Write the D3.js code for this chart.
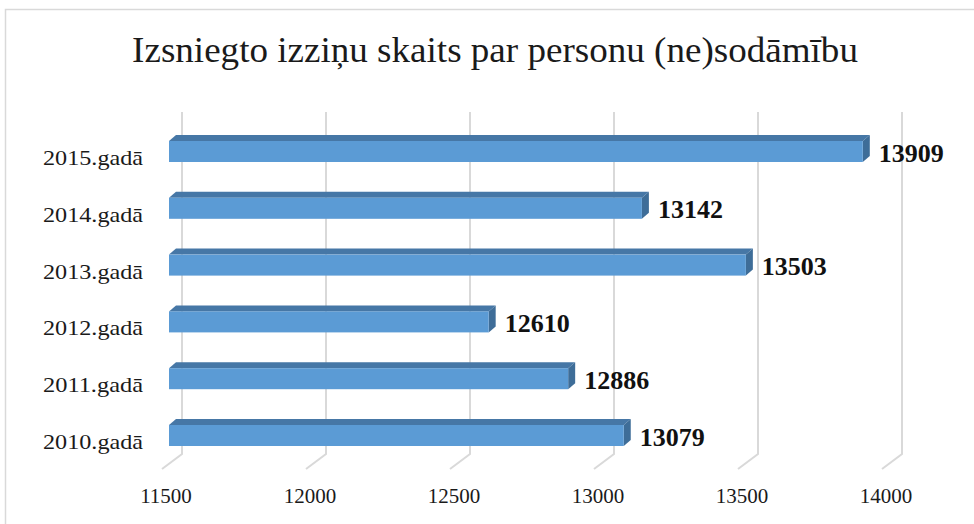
<!DOCTYPE html>
<html>
<head>
<meta charset="utf-8">
<script src="https://cdn.jsdelivr.net/npm/d3@7"></script>
<style>
  body { margin: 0; background: #fff; }
</style>
</head>
<body>
<svg id="chart" width="974" height="524"></svg>
<script>
const years = ["2015.gadā", "2014.gadā", "2013.gadā", "2012.gadā", "2011.gadā", "2010.gadā"];
const counts = [13909, 13142, 13503, 12610, 12886, 13079];
const ticks = [11500, 12000, 12500, 13000, 13500, 14000];
const title = "Izsniegto izziņu skaits par personu (ne)sodāmību";

const serif = "Liberation Serif";
const svg = d3.select("#chart");

// stretch a text horizontally to a given width, keeping glyph height
function fitWidth(sel, w, anchorX, baseY) {
  const len = sel.node().getComputedTextLength();
  const k = w / len;
  sel.attr("x", 0).attr("y", 0)
    .attr("transform", `translate(${anchorX},${baseY}) scale(${k},1)`);
}

// chart border
svg.append("rect").attr("x", 5.5).attr("y", 9.5).attr("width", 972).attr("height", 530)
  .attr("fill", "none").attr("stroke", "#d9d9d9").attr("stroke-width", 1.5);

const t = svg.append("text").attr("text-anchor", "middle")
  .attr("font-family", serif).attr("font-size", 35).attr("fill", "#1a1a1a")
  .text(title);
fitWidth(t, 726, 495, 62);

// back wall / floor / bar scales
const xBack = d3.scaleLinear().domain([11500, 14000]).range([182, 902]);
const xFloor = d3.scaleLinear().domain([11500, 14000]).range([162, 882]);
const xBar = d3.scaleLinear().domain([11500, 14000]).range([169, 889]);
const y = d3.scalePoint().domain(years).range([151.5, 435.5]);

const wallTop = 112, wallBottom = 454, floorFront = 469;
const grid = svg.append("g");
ticks.forEach(v => {
  grid.append("path")
    .attr("d", `M${xBack(v)},${wallTop}V${wallBottom}L${xFloor(v)},${floorFront}`)
    .attr("fill", "none").attr("stroke", "#d9d9d9").attr("stroke-width", 2);
  svg.append("text").attr("x", xFloor(v) + 4).attr("y", 503).attr("text-anchor", "middle")
    .attr("font-family", serif).attr("font-size", 21).attr("fill", "#1a1a1a").text(v);
});

const bh = 21, dx = 7, dy = 6;
const bars = svg.append("g");
years.forEach((yr, i) => {
  const x0 = xBar(11500), x1 = xBar(counts[i]);
  const top = y(yr) - bh / 2, bot = y(yr) + bh / 2;
  bars.append("path")
    .attr("d", `M${x0},${top}L${x0 + dx},${top - dy}H${x1 + dx}L${x1},${top}Z`)
    .attr("fill", "#4677a6");
  bars.append("path")
    .attr("d", `M${x1},${top}L${x1 + dx},${top - dy}V${bot - dy}L${x1},${bot}Z`)
    .attr("fill", "#3e6d98");
  bars.append("rect").attr("x", x0).attr("y", top).attr("width", x1 - x0).attr("height", bh)
    .attr("fill", "#5b9bd5");
  bars.append("text").attr("x", x1 + 16).attr("y", y(yr) + 10)
    .attr("font-family", serif).attr("font-size", 26).attr("font-weight", "bold").attr("fill", "#111")
    .text(counts[i]);
  const lab = svg.append("text").attr("text-anchor", "end")
    .attr("font-family", serif).attr("font-size", 20).attr("fill", "#1a1a1a")
    .text(yr);
  fitWidth(lab, 100, 143, y(yr) + 13.5);
});
</script>
</body>
</html>
